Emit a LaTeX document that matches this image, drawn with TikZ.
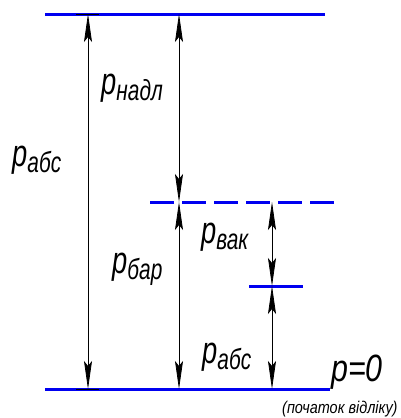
\documentclass[tikz,border=0pt]{standalone}
\usepackage{fontspec}
\setmainfont{Liberation Sans}
\newfontfamily\lab[FakeStretch=0.72]{Liberation Sans}
\newfontfamily\labw[FakeStretch=0.8]{Liberation Sans}
\newfontfamily\labs[FakeStretch=0.85]{Liberation Sans}
\usetikzlibrary{arrows.meta}
\definecolor{lineblue}{RGB}{0,0,240}
\tikzset{
  level/.style={draw=lineblue,line width=3pt},
  dashlevel/.style={draw=lineblue,line width=3pt,dash pattern=on 24pt off 8pt},
  dim/.style={draw=black,line width=0.8pt,{Stealth[length=28pt,width=8pt,inset=5pt]}-{Stealth[length=28pt,width=8pt,inset=5pt]}},
  tick/.style={draw=black,line width=0.8pt},
  plab/.style={inner sep=0pt,anchor=base west,font=\lab\itshape\fontsize{38}{38}\selectfont},
  zlab/.style={inner sep=0pt,anchor=base west,font=\labw\itshape\fontsize{38}{38}\selectfont},
  small/.style={inner sep=0pt,anchor=base west,font=\labs\itshape\fontsize{17}{17}\selectfont}
}
\newcommand{\subs}[1]{\raisebox{-6pt}{\fontsize{29}{29}\selectfont #1}}
\begin{document}
\begin{tikzpicture}[x=1pt,y=-1pt]
\useasboundingbox (0,0) rectangle (401,418);
% levels
\coordinate (t1) at (45,14); \coordinate (t2) at (325,14);
\coordinate (b1) at (45,389); \coordinate (b2) at (330,389);
\coordinate (d1) at (150,202); \coordinate (d2) at (336,202);
\coordinate (s1) at (249,286); \coordinate (s2) at (303,286);
\draw[level] (t1) -- (t2);
\draw[level] (b1) -- (b2);
\draw[dashlevel] (d1) -- (d2);
\draw[level] (s1) -- (s2);
% ticks
\coordinate (tk1) at (76,14); \coordinate (tk2) at (99,14);
\coordinate (tk3) at (76,389); \coordinate (tk4) at (99,389);
\draw[tick] (tk1) -- (tk2);
\draw[tick] (tk3) -- (tk4);
% dimension points
\coordinate (a1) at (88,14); \coordinate (a2) at (88,389);
\coordinate (c1) at (179,14); \coordinate (c2) at (179,202); \coordinate (c3) at (179,389);
\coordinate (e1) at (272,202); \coordinate (e2) at (272,286); \coordinate (e3) at (272,389);
\draw[dim] (a1) -- (a2);
\draw[dim] (c1) -- (c2);
\draw[dim] (c2) -- (c3);
\draw[dim] (e1) -- (e2);
\draw[dim] (e2) -- (e3);
% labels
\node[plab] (labs) at (12,166) {p\subs{абс}};
\node[plab] (lnadl) at (101,94) {p\subs{надл}};
\node[plab] (lvak) at (201,243) {p\subs{вак}};
\node[plab] (lbar) at (112,273) {p\subs{бар}};
\node[plab] (labs2) at (202,363) {p\subs{абс}};
\node[zlab] (lp0) at (331,381) {p=0};
\node[small] (lorig) at (282,413) {(початок відліку)};
\end{tikzpicture}
\end{document}
